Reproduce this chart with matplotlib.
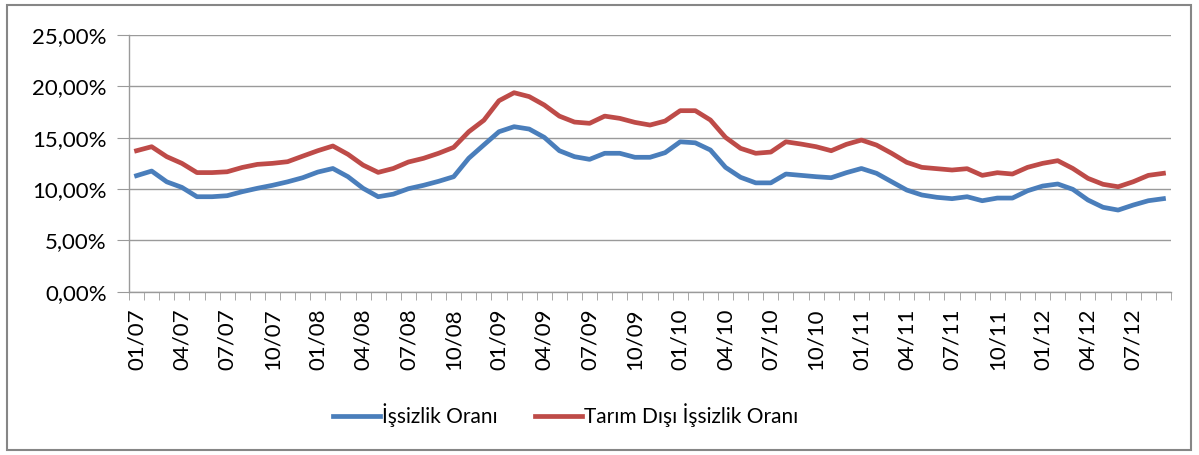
import matplotlib
matplotlib.use("Agg")
import matplotlib.pyplot as plt
from matplotlib.patches import Rectangle
from matplotlib.ticker import FuncFormatter, FixedLocator
import numpy as np

plt.rcParams['font.family'] = ['Lato', 'DejaVu Sans']

# months 01/07 .. 09/12
years = ["07", "08", "09", "10", "11", "12"]
months = [f"{m:02d}/{y}" for y in years for m in range(1, 13)][:69]

issizlik = [11.30, 11.75, 10.70, 10.16, 9.25, 9.25, 9.35, 9.74, 10.07, 10.36,
            10.70, 11.10, 11.65, 12.00, 11.20, 10.07, 9.25, 9.50, 10.03, 10.36,
            10.75, 11.20, 13.00, 14.30, 15.58, 16.07, 15.84, 15.03, 13.73, 13.15,
            12.89, 13.48, 13.48, 13.09, 13.09, 13.54, 14.60, 14.50, 13.80, 12.11,
            11.14, 10.60, 10.60, 11.46, 11.33, 11.20, 11.10, 11.59, 12.00, 11.53,
            10.71, 9.90, 9.42, 9.19, 9.06, 9.25, 8.86, 9.12, 9.12, 9.83,
            10.29, 10.49, 9.97, 8.93, 8.22, 7.95, 8.44, 8.86, 9.06]

tarim_disi = [13.73, 14.12, 13.15, 12.50, 11.60, 11.60, 11.68, 12.10, 12.40, 12.50,
              12.66, 13.20, 13.73, 14.19, 13.38, 12.33, 11.62, 12.00, 12.63, 12.99,
              13.48, 14.06, 15.58, 16.70, 18.60, 19.38, 19.00, 18.18, 17.10, 16.52,
              16.40, 17.10, 16.88, 16.49, 16.23, 16.62, 17.63, 17.63, 16.72, 15.03,
              13.96, 13.48, 13.60, 14.60, 14.38, 14.12, 13.73, 14.35, 14.77, 14.28,
              13.48, 12.60, 12.11, 11.98, 11.85, 11.98, 11.33, 11.59, 11.46, 12.11,
              12.50, 12.76, 12.00, 11.04, 10.46, 10.22, 10.71, 11.33, 11.53]

y_ticks = [0, 5, 10, 15, 20, 25]

W, H = 1199, 455
fig = plt.figure(figsize=(W / 100, H / 100), dpi=100)

# chart border
fig.patches.append(Rectangle((7 / W, 5 / H), 1184 / W, 445 / H, transform=fig.transFigure,
                             fill=False, edgecolor="#868686", linewidth=1.5))

ax = fig.add_axes([129 / W, 1 - 291.7 / H, (1171 - 129) / W, (291.7 - 35) / H])

x = np.arange(len(months))
grid_c = "#9a9a9a"
ax.plot(x, issizlik, color="#4A7EBB", linewidth=3.4, solid_joinstyle="round",
        label="İşsizlik Oranı")
ax.plot(x, tarim_disi, color="#BE4B48", linewidth=3.4, solid_joinstyle="round",
        label="Tarım Dışı İşsizlik Oranı")

ax.set_xlim(-0.5, len(months) - 0.5)
ax.set_ylim(0, 25)
ax.set_yticks(y_ticks)
ax.yaxis.set_major_formatter(FuncFormatter(lambda v, p: f"{v:.2f}".replace(".", ",") + "%"))
ax.yaxis.grid(True, color=grid_c, linewidth=1)
ax.set_axisbelow(True)

# labels every 3 months, tick marks between categories
ax.set_xticks(x[::3])
ax.set_xticklabels(months[::3], rotation=90)
ax.xaxis.set_minor_locator(FixedLocator(np.arange(-0.5, len(months), 1)))
ax.tick_params(axis="x", which="major", length=0, pad=12)
ax.tick_params(axis="x", which="minor", length=6, color=grid_c, direction="out")
ax.tick_params(axis="y", length=9, color=grid_c, pad=7)
ax.tick_params(labelsize=16, labelcolor="black")

for s in ["top", "right"]:
    ax.spines[s].set_visible(False)
for s in ["left", "bottom"]:
    ax.spines[s].set_color(grid_c)
    ax.spines[s].set_linewidth(1)

fig.legend(loc="center", bbox_to_anchor=(566 / W, 1 - 415 / H), ncol=2, frameon=False,
           fontsize=15, handlelength=2.25, handletextpad=0.1, columnspacing=1.8)

fig.savefig("out.png", dpi=100)
